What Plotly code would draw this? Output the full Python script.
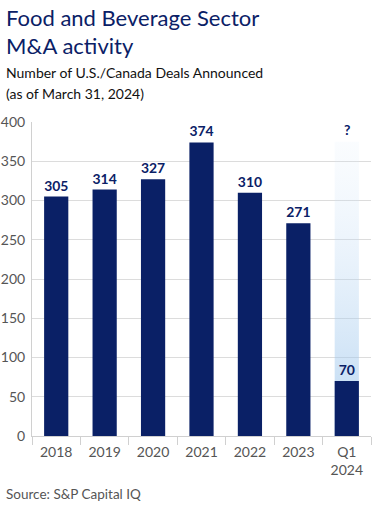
import plotly.graph_objects as go

categories = ["2018", "2019", "2020", "2021", "2022", "2023", "Q1<br>2024"]
deals = [305, 314, 327, 374, 310, 271, 70]
value_labels = ["305", "314", "327", "374", "310", "271", "70"]
projection_top = 375
projection_label = "?"
y_ticks = [0, 50, 100, 150, 200, 250, 300, 350, 400]

NAVY = "#0a2066"
FONT = "Lato"
GRAY = "#555555"

x_idx = list(range(len(categories)))
bw = 0.5
last = x_idx[-1]
xr = [-0.5, len(categories) - 0.5]
yr = [0, 400]

fig = go.Figure()

# gradient placeholder behind the last bar (base axes, drawn first)
fig.add_trace(go.Scatter(
    x=[last - bw / 2, last + bw / 2, last + bw / 2, last - bw / 2, last - bw / 2],
    y=[0, 0, projection_top, projection_top, 0],
    mode="lines", line=dict(width=0), fill="toself",
    fillgradient=dict(type="vertical",
                      colorscale=[[0, "rgba(140,188,232,0.6)"],
                                  [1, "rgba(215,232,250,0.12)"]],
                      start=0, stop=projection_top),
    hoverinfo="skip", showlegend=False,
))

# bars on overlaying axes so they render above the gradient
fig.add_trace(go.Bar(
    x=x_idx, y=deals, width=bw, xaxis="x2", yaxis="y2",
    marker=dict(color=NAVY, line=dict(width=0)),
    text=value_labels, textposition="outside",
    textfont=dict(family=FONT, size=14, color=NAVY, weight="bold"),
    cliponaxis=False, showlegend=False,
))

fig.add_annotation(x=last, y=projection_top, text=projection_label, showarrow=False,
                   yanchor="bottom", yshift=2,
                   font=dict(family=FONT, size=14, color=NAVY, weight="bold"))

PT = 122  # plot top in px
LX = -28 / 340


def header(text, center_y, size, color):
    fig.add_annotation(xref="paper", yref="paper", x=LX, y=1, yshift=PT - center_y,
                       xanchor="left", yanchor="middle", align="left", showarrow=False,
                       text=text, font=dict(family=FONT, size=size, color=color))


header("Food and Beverage Sector", 17, 22, NAVY)
header("M&A activity", 45, 22, NAVY)
header("Number of U.S./Canada Deals Announced", 72, 14, "#111111")
header("(as of March 31, 2024)", 93, 14, "#111111")

fig.add_annotation(xref="paper", yref="paper", x=LX, y=0, yshift=-(494 - 436),
                   xanchor="left", yanchor="middle", align="left", showarrow=False,
                   text="Source: S&P Capital IQ",
                   font=dict(family=FONT, size=13.5, color=GRAY))

fig.update_layout(
    width=375, height=512,
    margin=dict(l=32, r=4, t=PT, b=76),
    paper_bgcolor="white", plot_bgcolor="white",
    font=dict(family=FONT, size=14, color=GRAY),
    xaxis=dict(
        range=xr,
        tickmode="array", tickvals=x_idx, ticktext=categories,
        ticks="", showgrid=False, zeroline=False, automargin=False,
        showline=True, linecolor="#d0d0d0", linewidth=1,
        ticklabelstandoff=3,
        tickfont=dict(family=FONT, size=14, color=GRAY),
        minor=dict(tick0=-0.5, dtick=1, ticks="outside", ticklen=8,
                   tickcolor="#d0d0d0", tickwidth=1, showgrid=False),
        fixedrange=True,
    ),
    yaxis=dict(
        range=yr, tickmode="array", tickvals=y_ticks,
        showgrid=True, gridcolor="#dcdcdc", gridwidth=1,
        zeroline=False, showline=True, linecolor="#d0d0d0", linewidth=1,
        ticks="", ticklabelstandoff=3, automargin=False,
        tickfont=dict(family=FONT, size=14, color=GRAY),
        fixedrange=True,
    ),
    xaxis2=dict(overlaying="x", matches="x", range=xr, visible=False, fixedrange=True),
    yaxis2=dict(overlaying="y", matches="y", range=yr, visible=False, fixedrange=True),
)

fig.write_html("out.html", config={"displayModeBar": False},
               post_script="document.body.style.margin='0';")
